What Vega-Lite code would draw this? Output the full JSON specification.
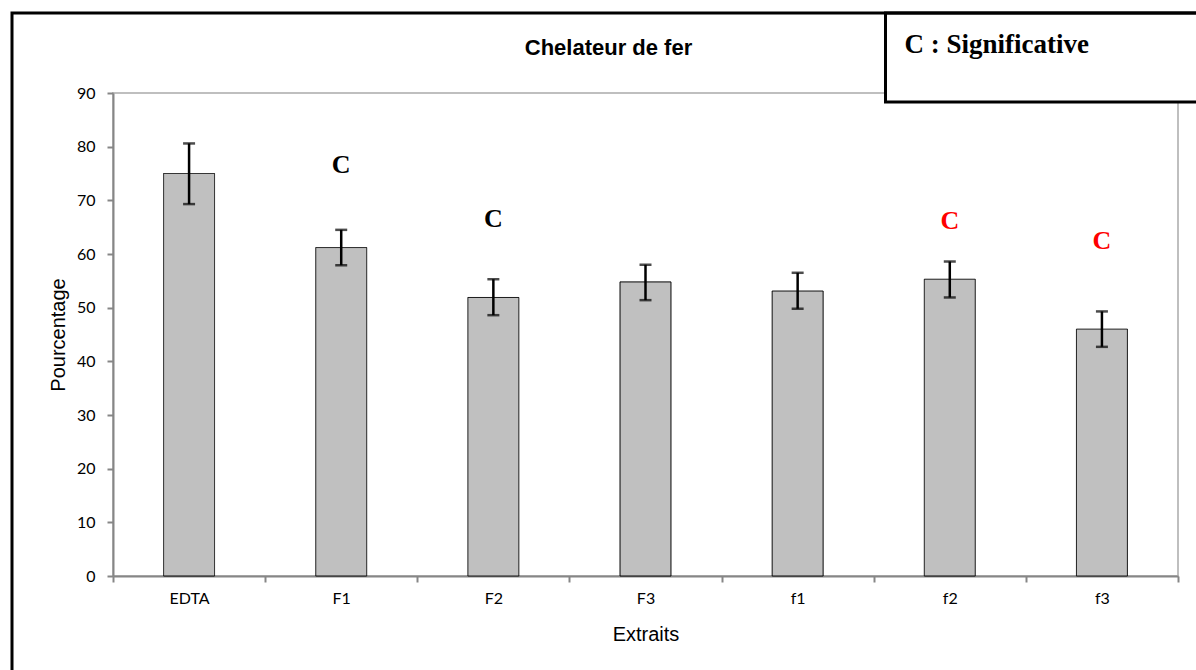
{
  "$schema": "https://vega.github.io/schema/vega-lite/v6.json",
  "autosize": {"type": "none"},
  "width": 1065,
  "height": 483,
  "padding": {"left": 113, "top": 93, "right": 18, "bottom": 94},
  "background": "white",
  "title": {
    "text": "Chelateur de fer",
    "font": "Liberation Sans",
    "fontSize": 22,
    "fontWeight": "bold",
    "color": "black",
    "anchor": "middle",
    "frame": "group",
    "dx": -37,
    "offset": -65,
    "baseline": "alphabetic"
  },
  "datasets": {
    "mesures": [
      {"Extrait": "EDTA", "Pourcentage": 75.0, "bas": 69.3, "haut": 80.6},
      {"Extrait": "F1", "Pourcentage": 61.2, "bas": 57.9, "haut": 64.5},
      {"Extrait": "F2", "Pourcentage": 51.9, "bas": 48.6, "haut": 55.3},
      {"Extrait": "F3", "Pourcentage": 54.8, "bas": 51.4, "haut": 58.0},
      {"Extrait": "f1", "Pourcentage": 53.1, "bas": 49.8, "haut": 56.5},
      {"Extrait": "f2", "Pourcentage": 55.3, "bas": 51.9, "haut": 58.6},
      {"Extrait": "f3", "Pourcentage": 46.0, "bas": 42.7, "haut": 49.3}
    ],
    "annotations": [
      {"Extrait": "F1", "lettre": "C", "pos": 76.6, "groupe": "F"},
      {"Extrait": "F2", "lettre": "C", "pos": 66.6, "groupe": "F"},
      {"Extrait": "f2", "lettre": "C", "pos": 66.1, "groupe": "f"},
      {"Extrait": "f3", "lettre": "C", "pos": 62.4, "groupe": "f"}
    ]
  },
  "layer": [
    {
      "data": {"name": "mesures"},
      "mark": {"type": "bar", "fill": "#c0c0c0", "stroke": "black", "strokeWidth": 1, "width": {"band": 0.335}},
      "encoding": {
        "x": {
          "field": "Extrait", "type": "nominal", "sort": null, "title": "Extraits",
          "scale": {"domain": ["EDTA", "F1", "F2", "F3", "f1", "f2", "f3"], "paddingInner": 0, "paddingOuter": 0},
          "axis": {
            "labelAngle": 0, "tickBand": "extent", "labelPadding": 8, "titlePadding": 18,
            "encode": {"ticks": {"update": {"y": {"value": -6}}}}
          }
        },
        "y": {
          "field": "Pourcentage", "type": "quantitative", "title": "Pourcentage",
          "scale": {"domain": [0, 90], "nice": false, "zero": true},
          "axis": {
            "values": [0, 10, 20, 30, 40, 50, 60, 70, 80, 90],
            "labelPadding": 12, "titlePadding": 8, "labelFlush": false, "labelOverlap": false,
            "encode": {"ticks": {"update": {"x": {"value": 6}}}}
          }
        },
        "strokeDash": {
          "datum": "a",
          "scale": {"domain": ["a", "b"], "range": [[1, 0], [1, 0]]},
          "legend": {
            "title": "C : Significative",
            "orient": "none",
            "legendX": 772.5,
            "legendY": -80,
            "direction": "horizontal",
            "columnPadding": 300,
            "padding": 19,
            "fillColor": "white",
            "strokeColor": "black",
            "titleFont": "Liberation Serif",
            "titleFontSize": 27,
            "titleFontWeight": "bold",
            "titleColor": "black",
            "titlePadding": 23,
            "titleLimit": 1000,
            "labelExpr": "''",
            "labelFontSize": 1,
            "symbolSize": 1,
            "symbolOpacity": 0,
            "symbolStrokeWidth": 0
          }
        }
      }
    },
    {
      "data": {"name": "mesures"},
      "mark": {"type": "rule", "color": "black", "strokeWidth": 2.5},
      "encoding": {
        "x": {"field": "Extrait", "type": "nominal", "sort": null, "title": "Extraits"},
        "y": {"field": "bas", "type": "quantitative", "title": "Pourcentage"},
        "y2": {"field": "haut"}
      }
    },
    {
      "data": {"name": "mesures"},
      "mark": {"type": "tick", "color": "black", "size": 12, "thickness": 2.5},
      "encoding": {
        "x": {"field": "Extrait", "type": "nominal", "sort": null, "title": "Extraits"},
        "y": {"field": "haut", "type": "quantitative", "title": "Pourcentage"}
      }
    },
    {
      "data": {"name": "mesures"},
      "mark": {"type": "tick", "color": "black", "size": 12, "thickness": 2.5},
      "encoding": {
        "x": {"field": "Extrait", "type": "nominal", "sort": null, "title": "Extraits"},
        "y": {"field": "bas", "type": "quantitative", "title": "Pourcentage"}
      }
    },
    {
      "data": {"name": "annotations"},
      "mark": {"type": "text", "font": "Liberation Serif", "fontSize": 26, "fontWeight": "bold", "baseline": "middle", "align": "center"},
      "encoding": {
        "x": {"field": "Extrait", "type": "nominal", "sort": null, "title": "Extraits"},
        "y": {"field": "pos", "type": "quantitative", "title": "Pourcentage"},
        "text": {"field": "lettre"},
        "color": {"field": "groupe", "type": "nominal", "scale": {"domain": ["F", "f"], "range": ["black", "#ff0000"]}, "legend": null}
      }
    },
    {
      "data": {"name": "mesures"},
      "mark": {"type": "point", "opacity": 0},
      "encoding": {
        "x": {"field": "Extrait", "type": "nominal", "sort": null, "title": "Extraits"},
        "y": {"field": "Pourcentage", "type": "quantitative", "title": "Pourcentage"},
        "shape": {
          "datum": "cadre",
          "scale": {"range": ["square"]},
          "legend": {
            "title": null,
            "orient": "none",
            "legendX": -101,
            "legendY": -80,
            "padding": 0,
            "strokeColor": "black",
            "labelExpr": "''",
            "labelFontSize": 1,
            "symbolSize": 2000000,
            "symbolOpacity": 0,
            "symbolStrokeWidth": 0
          }
        }
      }
    }
  ],
  "config": {
    "view": {"stroke": "#bfbfbf", "strokeWidth": 2},
    "legend": {"strokeWidth": 3},
    "axis": {
      "domainColor": "#868686",
      "domainWidth": 2,
      "tickColor": "#868686",
      "tickWidth": 2,
      "tickSize": 6,
      "grid": false,
      "labelFont": "Lato",
      "labelFontSize": 16,
      "labelColor": "black",
      "titleFont": "Liberation Sans",
      "titleFontSize": 20,
      "titleFontWeight": "normal",
      "titleColor": "black"
    }
  }
}
